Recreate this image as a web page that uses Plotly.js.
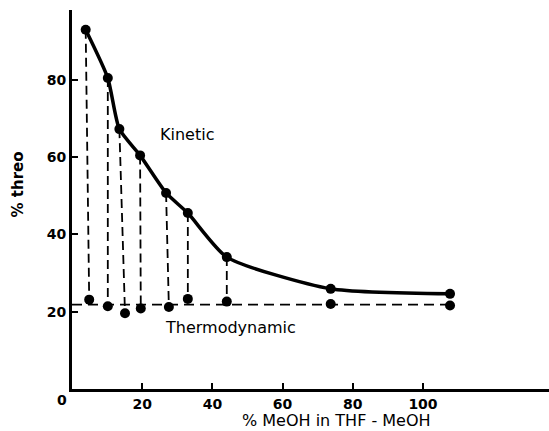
<!DOCTYPE html>
<html>
<head>
<meta charset="utf-8">
<script src="https://cdn.plot.ly/plotly-3.0.1.min.js"></script>
<style>html,body{margin:0;padding:0;background:#fff;}#chart{width:549px;height:431px;}</style>
</head>
<body>
<div id="chart"></div>
<script>
// Data (x = % MeOH in THF-MeOH, y = % threo)
const kineticX = [3.9, 10.2, 13.5, 19.4, 26.8, 33.0, 44.1, 73.7, 107.7];
const kineticY = [92.9, 80.4, 67.2, 60.4, 50.7, 45.5, 34.1, 25.9, 24.6];
const thermoX  = [4.9, 10.2, 15.1, 19.6, 27.6, 33.0, 44.1, 73.7, 107.7];
const thermoY  = [23.1, 21.4, 19.6, 20.8, 21.2, 23.3, 22.6, 22.0, 21.6];
const thermoLevel = 21.8;       // dashed equilibrium line
const droplineCount = 7;        // kinetic points joined to thermo points
const xTickVals = [20, 40, 60, 80, 100];
const xTickText = ["20", "40", "60", "80", "100"];
const yTickVals = [20, 40, 60, 80];
const yTickText = ["20", "40", "60", "80"];
const labels = {kinetic: "Kinetic", thermo: "Thermodynamic",
                xTitle: "% MeOH in THF - MeOH", yTitle: "% threo", origin: "0"};

const FONT = "DejaVu Sans, sans-serif";

// drop lines
const dropX = [], dropY = [];
for (let i = 0; i < droplineCount; i++) {
  dropX.push(kineticX[i], thermoX[i], null);
  dropY.push(kineticY[i], thermoY[i], null);
}

const traces = [
  { x: dropX, y: dropY, mode: "lines", line: {color: "#000", width: 1.8, dash: "9px,5px"}, hoverinfo: "skip" },
  { x: [0, thermoX[thermoX.length - 1]], y: [thermoLevel, thermoLevel], mode: "lines",
    line: {color: "#000", width: 1.8, dash: "10px,6px"}, hoverinfo: "skip" },
  { x: kineticX, y: kineticY, mode: "lines", line: {color: "#000", width: 3.5, shape: "spline", smoothing: 0.6} },
  { x: kineticX, y: kineticY, mode: "markers", marker: {color: "#000", size: 10} },
  { x: thermoX, y: thermoY, mode: "markers", marker: {color: "#000", size: 10} }
];

const layout = {
  width: 549, height: 431,
  margin: {l: 72, r: 0, t: 10, b: 42},
  paper_bgcolor: "#fff", plot_bgcolor: "#fff",
  showlegend: false,
  font: {family: FONT, color: "#000", size: 14},
  xaxis: {
    range: [0, 135.9], showgrid: false, zeroline: false,
    showline: true, linecolor: "#000", linewidth: 3,
    tickmode: "array", tickvals: xTickVals, ticktext: xTickText,
    ticks: "inside", ticklen: 6, tickwidth: 2, tickcolor: "#000",
    tickfont: {family: FONT, size: 14, color: "#000", weight: "bold"}
  },
  yaxis: {
    range: [0, 98], showgrid: false, zeroline: false,
    showline: true, linecolor: "#000", linewidth: 3,
    tickmode: "array", tickvals: yTickVals, ticktext: yTickText,
    ticks: "inside", ticklen: 6, tickwidth: 2, tickcolor: "#000",
    tickfont: {family: FONT, size: 14, color: "#000", weight: "bold"}
  },
  annotations: [
    {text: labels.kinetic, x: 32.8, y: 65.9, xref: "x", yref: "y", showarrow: false,
     font: {family: FONT, size: 16, color: "#000"}},
    {text: labels.thermo, x: 45.2, y: 16.0, xref: "x", yref: "y", showarrow: false,
     font: {family: FONT, size: 16, color: "#000"}},
    {text: labels.xTitle, x: 0.5545, y: -0.083, xref: "paper", yref: "paper", showarrow: false,
     xanchor: "center", yanchor: "middle", font: {family: FONT, size: 16, color: "#000"}},
    {text: labels.yTitle, x: -0.113, y: 0.54, xref: "paper", yref: "paper", showarrow: false,
     textangle: -90, xanchor: "center", yanchor: "middle", font: {family: FONT, size: 15, color: "#000", weight: "bold"}},
    {text: labels.origin, x: -0.021, y: -0.03, xref: "paper", yref: "paper", showarrow: false,
     xanchor: "center", yanchor: "middle", font: {family: FONT, size: 14, color: "#000", weight: "bold"}}
  ]
};

Plotly.newPlot("chart", traces, layout, {staticPlot: true, displayModeBar: false});
</script>
</body>
</html>
